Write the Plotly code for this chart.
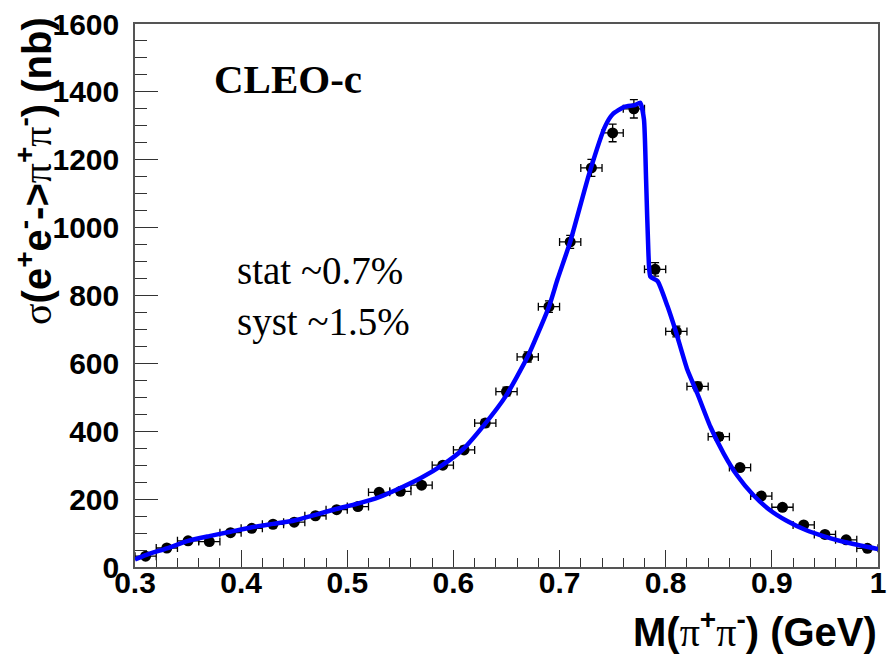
import plotly.graph_objects as go

# Measured cross section, 20 MeV bins
mass = [0.31, 0.33, 0.35, 0.37, 0.39, 0.41, 0.43, 0.45, 0.47, 0.49,
        0.51, 0.53, 0.55, 0.57, 0.59, 0.61, 0.63, 0.65, 0.67, 0.69,
        0.71, 0.73, 0.75, 0.77, 0.79, 0.81, 0.83, 0.85, 0.87, 0.89,
        0.91, 0.93, 0.95, 0.97, 0.99]
sigma = [32, 56, 77, 75, 101, 114, 126, 132, 151, 169,
         178, 220, 223, 241, 300, 345, 424, 517, 619, 767,
         958, 1176, 1279, 1350, 877, 694, 532, 384, 293, 209,
         176, 124, 96, 80, 55]
sigma_err = [4, 5, 5, 5, 6, 6, 6, 6, 7, 7,
             7, 8, 8, 8, 9, 10, 11, 13, 15, 17,
             19, 25, 26, 27, 20, 16, 13, 11, 9, 8,
             7, 6, 5, 5, 5]
bin_half = [0.01] * len(mass)

# Fitted line shape (rho with rho-omega interference)
fit_mass = [0.300, 0.310, 0.330, 0.350, 0.370, 0.390, 0.410, 0.430, 0.450, 0.469,
            0.4895, 0.509, 0.530, 0.5495, 0.5693, 0.5895, 0.609, 0.629, 0.649, 0.670,
            0.690, 0.698, 0.710, 0.728, 0.743, 0.750, 0.761, 0.771, 0.776, 0.7795,
            0.7815, 0.7837, 0.7855, 0.7924, 0.8017, 0.8095, 0.8204, 0.8297, 0.842, 0.8545,
            0.867, 0.8825, 0.898, 0.9135, 0.932, 0.9508, 0.9694, 1.000]
fit_sigma = [22, 35, 55, 77, 91, 104, 117, 127, 137, 153,
             171, 186, 206, 232, 262, 300, 347, 419, 502, 620,
             767, 847, 958, 1160, 1299, 1334, 1356, 1361, 1368, 1319,
             1142, 926, 856, 842, 768, 694, 581, 512, 414, 335,
             271, 212, 168, 137, 109, 89, 73, 53]

x_ticks = [0.3, 0.4, 0.5, 0.6, 0.7, 0.8, 0.9, 1.0]
x_ticktext = ["0.3", "0.4", "0.5", "0.6", "0.7", "0.8", "0.9", "1"]
y_ticks = [0, 200, 400, 600, 800, 1000, 1200, 1400, 1600]

SANS = "Liberation Sans, Arial, sans-serif"
SERIF = "Liberation Serif, Times New Roman, serif"
GREEK = "<span style=\"font-family:'Liberation Serif';font-weight:normal\">{}</span>"

fig = go.Figure()

fig.add_trace(go.Scatter(
    x=mass, y=sigma, mode="markers",
    marker=dict(color="black", size=11, symbol="circle"),
    error_x=dict(type="data", array=bin_half, color="black", thickness=1.3, width=4),
    error_y=dict(type="data", array=sigma_err, color="black", thickness=1.3, width=4),
    showlegend=False,
))

fig.add_trace(go.Scatter(
    x=fit_mass, y=fit_sigma, mode="lines",
    line=dict(color="#0000ff", width=4.5, shape="spline", smoothing=0.5),
    showlegend=False,
))

axis_common = dict(
    showgrid=False, zeroline=False,
    showline=True, linecolor="#555555", linewidth=1.5, mirror=True,
    ticks="inside", tickcolor="#333333", tickwidth=1,
    ticklabeloverflow="allow",
    tickfont=dict(family=SANS, size=30, color="black", weight="bold"),
)

fig.update_xaxes(
    range=[0.3, 1.0], tickmode="array", tickvals=x_ticks, ticktext=x_ticktext,
    ticklen=17, ticklabelstandoff=-12,
    minor=dict(tick0=0.3, dtick=0.02, ticks="inside", ticklen=9, tickcolor="#333333", tickwidth=1),
    **axis_common,
)
fig.update_yaxes(
    range=[0, 1600], tickmode="array", tickvals=y_ticks,
    ticklen=23, ticklabelstandoff=8,
    minor=dict(tick0=0, dtick=50, ticks="inside", ticklen=12, tickcolor="#333333", tickwidth=1),
    **axis_common,
)

pi = GREEK.format("π")
sig = GREEK.format("σ")
y_title = f"{sig}(e<sup>+</sup>e<sup>-</sup>->{pi}<sup>+</sup>{pi}<sup>-</sup>) (nb)"
x_title = f"M({pi}<sup>+</sup>{pi}<sup>-</sup>) (GeV)"

fig.update_layout(
    width=892, height=655,
    margin=dict(l=135, r=6, t=24, b=88),
    paper_bgcolor="white", plot_bgcolor="white",
    annotations=[
        dict(text=y_title, xref="paper", yref="paper", x=-0.135, y=1.016,
             xanchor="center", yanchor="top", textangle=-90, showarrow=False,
             font=dict(family=SANS, size=40, color="black", weight="bold")),
        dict(text=x_title, xref="paper", yref="paper", x=1.002, y=-0.116,
             xanchor="right", yanchor="middle", showarrow=False,
             font=dict(family=SANS, size=40, color="black", weight="bold")),
        dict(text="CLEO-c", xref="paper", yref="paper", x=0.103, y=0.899,
             xanchor="left", yanchor="middle", showarrow=False,
             font=dict(family=SERIF, size=41, color="black", weight="bold")),
        dict(text="stat ~0.7%", xref="paper", yref="paper", x=0.134, y=(567 - 270) / 543,
             xanchor="left", yanchor="middle", showarrow=False,
             font=dict(family=SERIF, size=39, color="black")),
        dict(text="syst ~1.5%", xref="paper", yref="paper", x=0.134, y=(567 - 322) / 543,
             xanchor="left", yanchor="middle", showarrow=False,
             font=dict(family=SERIF, size=39, color="black")),
    ],
)

fig.write_html("out.html")
